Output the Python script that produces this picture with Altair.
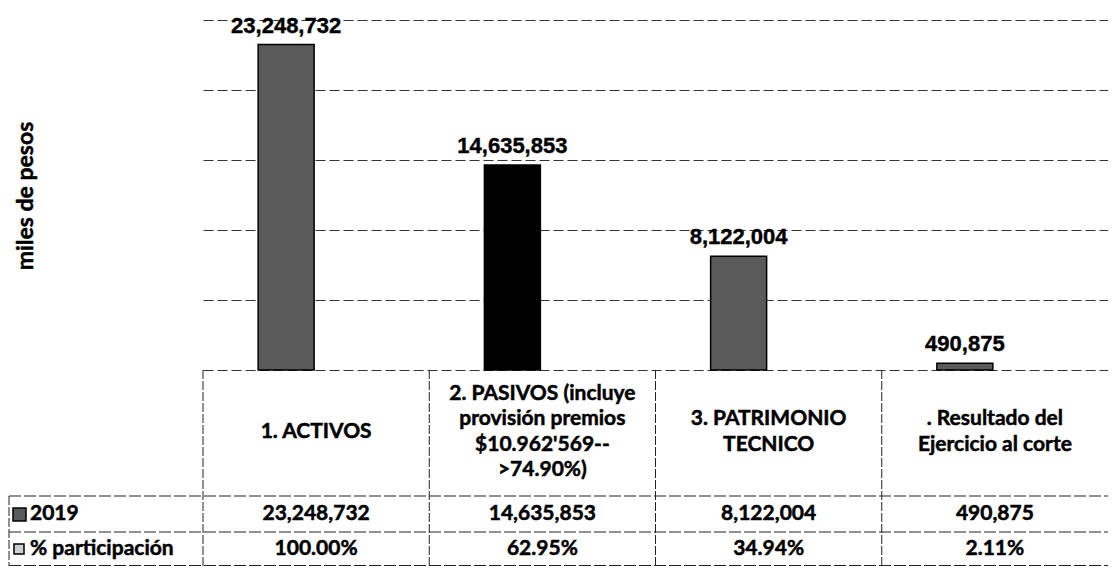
import altair as alt
import pandas as pd

# ---------------- data ----------------
categories = [
    "1. ACTIVOS",
    "2. PASIVOS (incluye provisión premios $10.962'569-->74.90%)",
    "3. PATRIMONIO TECNICO",
    ". Resultado del Ejercicio al corte",
]
header_lines = [
    ["1. ACTIVOS"],
    ["2. PASIVOS (incluye", "provisión premios", "$10.962'569--", ">74.90%)"],
    ["3. PATRIMONIO", "TECNICO"],
    [". Resultado del", "Ejercicio al corte"],
]
series_2019 = [23248732, 14635853, 8122004, 490875]
pct_participacion = [100.00, 62.95, 34.94, 2.11]
row_labels = ["2019", "% participación"]
y_title = "miles de pesos"

df = pd.DataFrame({
    "cat": categories,
    "header": ["\n".join(l) for l in header_lines],
    "nlines": [len(l) for l in header_lines],
    "v2019": series_2019,
    "pct": pct_participacion,
})

# ---------------- layout constants ----------------
W, H = 905, 350
PAD_L, PAD_T, PAD_B = 195, 12, 197
ROW1_LINE, ROW2_LINE, TABLE_BOTTOM = 476, 512, 546
HEADER_MID = 412
LINE_H = 25.5
BAR_SHIFT = -30
TABLE_FONT = "Lato"
LABEL_FONT = "Liberation Sans"
LINE_COLOR = "#222222"
TXT = dict(font=TABLE_FONT, fontWeight="bold", fontSize=21, color="black",
           stroke="black", strokeWidth=0.5)

base = alt.Chart(df)
x_enc = alt.X("cat:N", sort=categories,
              scale=alt.Scale(paddingInner=0, paddingOuter=0), axis=None)

bars = base.mark_bar(size=56, xOffset=BAR_SHIFT, stroke="black", strokeWidth=1.5).encode(
    x=x_enc,
    y=alt.Y("v2019:Q",
            scale=alt.Scale(domain=[0, 25000000], nice=False),
            axis=alt.Axis(tickCount=5, labels=False, ticks=False, domain=False,
                          title=None, grid=True, gridDash=[10, 4],
                          gridColor="#333333", gridWidth=1)),
    color=alt.condition(alt.datum.cat == categories[1],
                        alt.value("#000000"), alt.value("#5a5a5a")),
)

bar_labels = base.mark_text(font=LABEL_FONT, fontWeight="bold", fontSize=22,
                            baseline="alphabetic", dy=-12, xOffset=BAR_SHIFT,
                            color="black", stroke="black", strokeWidth=0.4).encode(
    x=x_enc,
    y=alt.Y("v2019:Q"),
    text=alt.Text("v2019:Q", format=",.0f"),
)

# y axis title
title_layer = alt.Chart(alt.Data(values=[{"t": y_title}])).mark_text(
    font=TABLE_FONT, fontWeight="bold", fontSize=23, angle=270,
    align="center", baseline="middle", color="black",
    stroke="black", strokeWidth=0.5).encode(
    x=alt.value(-177), y=alt.value(176), text="t:N")

# ---------------- data table ----------------
header_layers = []
for n in sorted(set(len(l) for l in header_lines)):
    first_y = HEADER_MID - (n - 1) * LINE_H / 2
    header_layers.append(
        base.transform_filter(alt.datum.nlines == n).mark_text(
            lineBreak="\n", lineHeight=LINE_H, align="center",
            baseline="middle", **TXT).encode(
            x=x_enc, y=alt.value(first_y), text="header:N"))

row1_text = base.mark_text(align="center", baseline="middle", **TXT).encode(
    x=x_enc, y=alt.value(494), text=alt.Text("v2019:Q", format=",.0f"))

row2_text = base.transform_calculate(pctf="datum.pct / 100").mark_text(
    align="center", baseline="middle", **TXT).encode(
    x=x_enc, y=alt.value(529), text=alt.Text("pctf:Q", format=".2%"))

row_header_data = alt.Data(values=[{"label": row_labels[0]}])
row_header_data2 = alt.Data(values=[{"label": row_labels[1]}])
rh1 = alt.Chart(row_header_data).mark_text(align="left", baseline="middle", **TXT).encode(
    x=alt.value(-173), y=alt.value(494), text="label:N")
rh2 = alt.Chart(row_header_data2).mark_text(align="left", baseline="middle", **TXT).encode(
    x=alt.value(-173), y=alt.value(529), text="label:N")

key1 = alt.Chart(row_header_data).mark_rect(
    fill="#5a5a5a", stroke="black", strokeWidth=1.5).encode(
    x=alt.value(-190), x2=alt.value(-177), y=alt.value(488), y2=alt.value(501))
key2 = alt.Chart(row_header_data2).mark_rect(
    fill="#cfcfcf", stroke="black", strokeWidth=1.5).encode(
    x=alt.value(-189), x2=alt.value(-179), y=alt.value(524), y2=alt.value(534))

# table grid lines
vlines = base.mark_rule(color=LINE_COLOR, strokeWidth=1, strokeDash=[9, 2]).encode(
    x=alt.X("cat:N", sort=categories, bandPosition=0,
            scale=alt.Scale(paddingInner=0, paddingOuter=0), axis=None),
    y=alt.value(H), y2=alt.value(TABLE_BOTTOM))

line_data = alt.Data(values=[{"k": 1}])
left_border = alt.Chart(line_data).mark_rule(
    color=LINE_COLOR, strokeWidth=1, strokeDash=[9, 2]).encode(
    x=alt.value(-194), y=alt.value(ROW1_LINE), y2=alt.value(TABLE_BOTTOM))
hlines = []
for yy in (ROW1_LINE, ROW2_LINE, TABLE_BOTTOM - 0.5):
    hlines.append(alt.Chart(line_data).mark_rule(
        color=LINE_COLOR, strokeWidth=1, strokeDash=[12, 3]).encode(
        x=alt.value(-194), x2=alt.value(W), y=alt.value(yy)))

chart = alt.layer(
    bars, bar_labels, title_layer, *header_layers, row1_text, row2_text,
    rh1, rh2, key1, key2, vlines, left_border, *hlines,
).properties(
    width=W, height=H,
    autosize=alt.AutoSizeParams(type="none"),
    padding={"left": PAD_L, "top": PAD_T, "right": 0, "bottom": PAD_B},
    background="white",
).configure_view(stroke=None)

chart.save("out.html", embed_options={"renderer": "svg", "actions": False})
